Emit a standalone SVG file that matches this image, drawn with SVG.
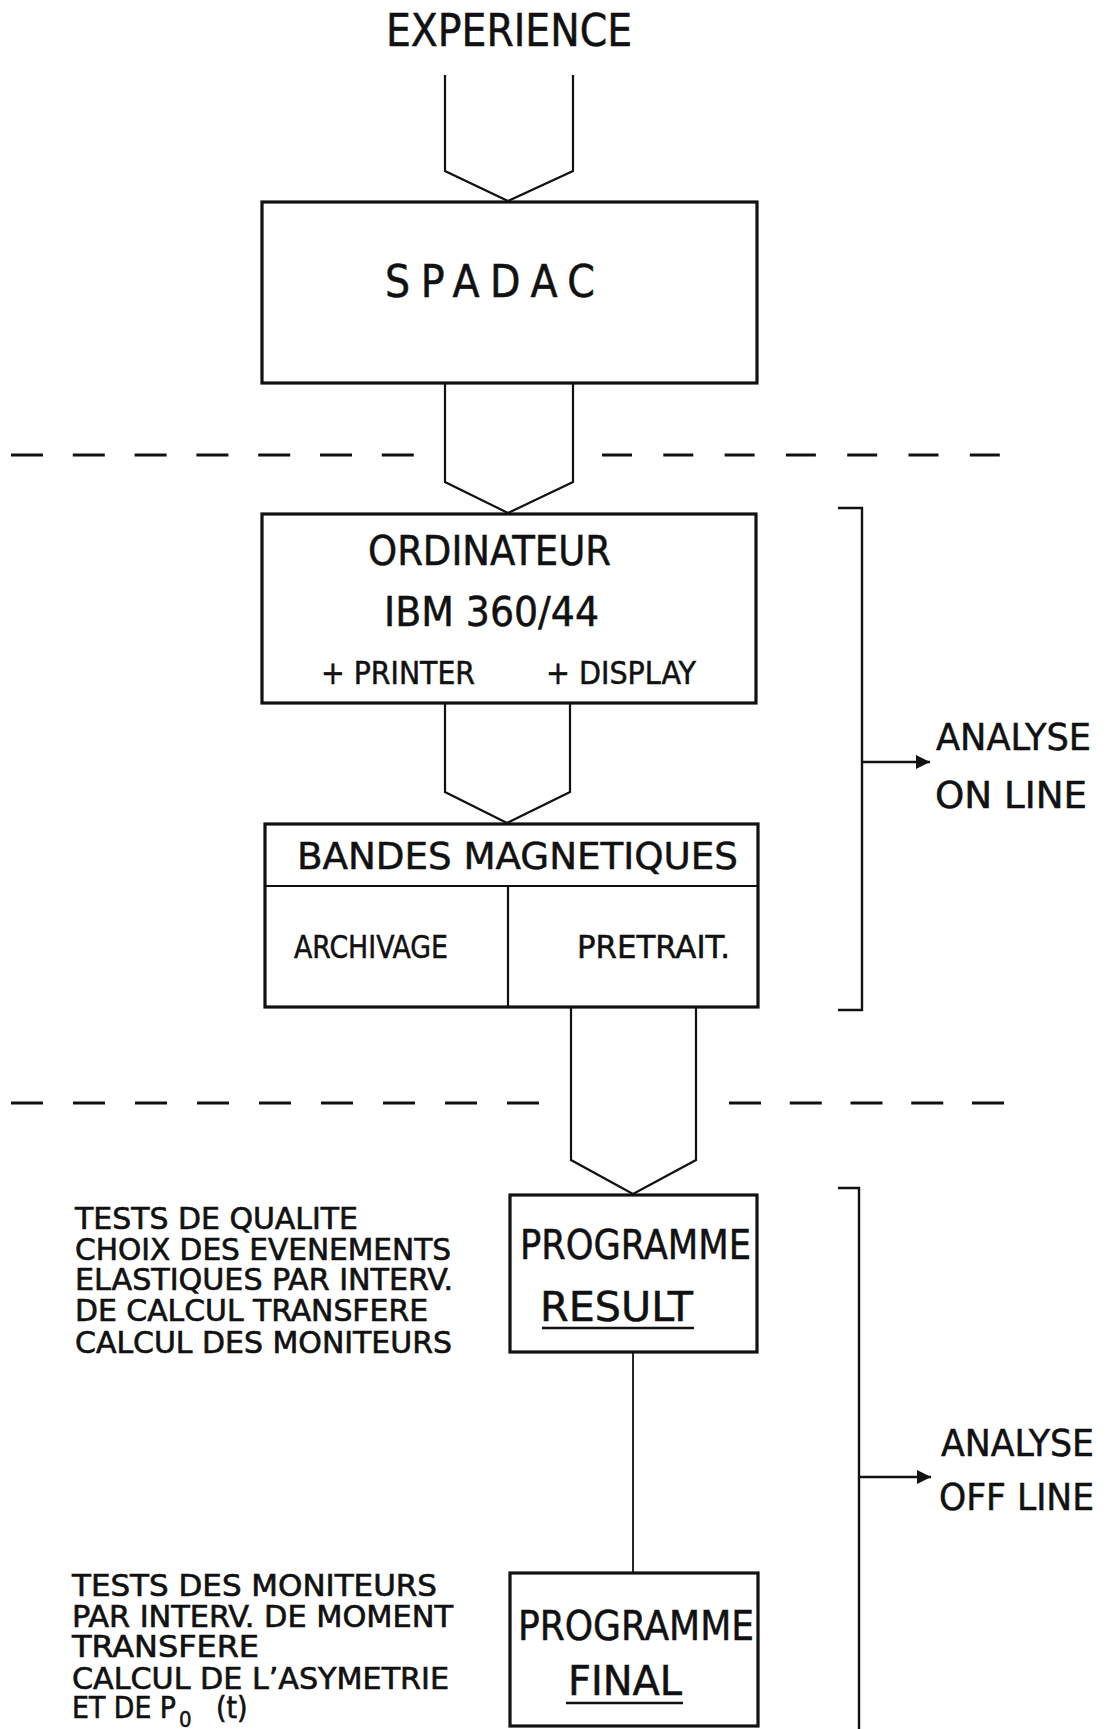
<svg xmlns="http://www.w3.org/2000/svg" width="1115" height="1729" viewBox="0 0 1115 1729">
<style>
text{font-family:"DejaVu Sans Condensed","DejaVu Sans","Liberation Sans",sans-serif;font-stretch:condensed;fill:#111;stroke:#111;stroke-width:0.5;}
.box{fill:none;stroke:#111;stroke-width:3.2;}
.div{fill:none;stroke:#111;stroke-width:2.2;}
.flow{fill:none;stroke:#111;stroke-width:2.2;stroke-linejoin:miter;}
.thin{fill:none;stroke:#111;stroke-width:1.8;}
.dash{fill:none;stroke:#111;stroke-width:3;}
.br{fill:none;stroke:#111;stroke-width:2.4;}
.big{font-size:44px;}
.mid{font-size:41px;}
.sm{font-size:32px;}
.note{font-size:30px;stroke-width:0.6;}
.lab{font-size:38px;}
.ul{stroke:#111;stroke-width:2.4;}
</style>
<defs>
<marker id="ah" viewBox="0 0 10 10" refX="10" refY="5" markerWidth="30" markerHeight="14" markerUnits="userSpaceOnUse" orient="auto">
<path d="M0,0 L10,5 L0,10 Z" fill="#111"/>
</marker>
</defs>
<rect width="1115" height="1729" fill="#fff"/>

<g id="separators">
<line class="dash" x1="11" y1="455" x2="414" y2="455" stroke-dasharray="32 29.8"/>
<line class="dash" x1="602" y1="455" x2="1000" y2="455" stroke-dasharray="30 31.3"/>
<line class="dash" x1="11" y1="1103" x2="539" y2="1103" stroke-dasharray="32 30"/>
<line class="dash" x1="729" y1="1103" x2="1004" y2="1103" stroke-dasharray="32 28.75"/>
</g>

<g id="experience">
<text class="big" x="386" y="46" textLength="246" lengthAdjust="spacingAndGlyphs">EXPERIENCE</text>
</g>

<g id="connectors">
<path class="flow" d="M445,75 L445,171 L508,201 L573,171 L573,75"/>
<path class="flow" d="M445,383 L445,482 L508,513 L573,482 L573,383"/>
<path class="flow" d="M445,703 L445,792 L507,823 L570,792 L570,703"/>
<path class="flow" d="M571,1006 L571,1160 L633,1194 L696,1160 L696,1006"/>
<line class="thin" x1="633" y1="1352" x2="633" y2="1573"/>
</g>

<g id="spadac">
<rect class="box" x="262" y="202" width="495" height="181"/>
<text class="big" x="385" y="297" textLength="210" lengthAdjust="spacing">SPADAC</text>
</g>

<g id="ordinateur">
<rect class="box" x="262" y="514" width="494" height="189"/>
<text class="mid" x="368" y="565" textLength="243" lengthAdjust="spacingAndGlyphs">ORDINATEUR</text>
<text class="mid" x="384" y="626" textLength="215" lengthAdjust="spacingAndGlyphs">IBM 360/44</text>
<text class="sm" x="321" y="684" textLength="154" lengthAdjust="spacingAndGlyphs">+ PRINTER</text>
<text class="sm" x="546" y="684" textLength="150" lengthAdjust="spacingAndGlyphs">+ DISPLAY</text>
</g>

<g id="bandes">
<rect class="box" x="265" y="824" width="493" height="183"/>
<line class="div" x1="265" y1="886" x2="758" y2="886"/>
<line class="div" x1="508" y1="886" x2="508" y2="1007"/>
<text class="lab" x="297" y="869" textLength="441" lengthAdjust="spacingAndGlyphs">BANDES MAGNETIQUES</text>
<text class="sm" x="294" y="958" textLength="154" lengthAdjust="spacingAndGlyphs">ARCHIVAGE</text>
<text class="sm" x="577" y="958" textLength="153" lengthAdjust="spacingAndGlyphs">PRETRAIT.</text>
</g>

<g id="result">
<rect class="box" x="510" y="1195" width="247" height="157"/>
<text class="mid" x="520" y="1259" textLength="231" lengthAdjust="spacingAndGlyphs">PROGRAMME</text>
<text class="mid" x="540" y="1321" textLength="153" lengthAdjust="spacingAndGlyphs">RESULT</text>
<line class="ul" x1="542" y1="1328" x2="694" y2="1328"/>
</g>

<g id="final">
<rect class="box" x="510" y="1573" width="248" height="153"/>
<text class="mid" x="518" y="1640" textLength="236" lengthAdjust="spacingAndGlyphs">PROGRAMME</text>
<text class="mid" x="568" y="1695" textLength="114" lengthAdjust="spacingAndGlyphs">FINAL</text>
<line class="ul" x1="566" y1="1703" x2="683" y2="1703"/>
</g>

<g id="notes-result">
<text class="note" x="75" y="1229" textLength="283" lengthAdjust="spacingAndGlyphs">TESTS DE QUALITE</text>
<text class="note" x="75" y="1260" textLength="376" lengthAdjust="spacingAndGlyphs">CHOIX DES EVENEMENTS</text>
<text class="note" x="75" y="1290" textLength="378" lengthAdjust="spacingAndGlyphs">ELASTIQUES PAR INTERV.</text>
<text class="note" x="75" y="1321" textLength="353" lengthAdjust="spacingAndGlyphs">DE CALCUL TRANSFERE</text>
<text class="note" x="75" y="1353" textLength="377" lengthAdjust="spacingAndGlyphs">CALCUL DES MONITEURS</text>
</g>

<g id="notes-final">
<text class="note" x="72" y="1596" textLength="365" lengthAdjust="spacingAndGlyphs">TESTS DES MONITEURS</text>
<text class="note" x="72" y="1627" textLength="381" lengthAdjust="spacingAndGlyphs">PAR INTERV. DE MOMENT</text>
<text class="note" x="72" y="1657" textLength="187" lengthAdjust="spacingAndGlyphs">TRANSFERE</text>
<text class="note" x="72" y="1689" textLength="377" lengthAdjust="spacingAndGlyphs">CALCUL DE L’ASYMETRIE</text>
<text class="note" x="72" y="1718" textLength="104" lengthAdjust="spacingAndGlyphs">ET DE P</text>
<text x="179" y="1727" font-size="22">0</text>
<text class="note" x="216" y="1718">(t)</text>
</g>

<g id="online">
<path class="br" d="M838,508 L862,508 L862,1010 L838,1010"/>
<line class="br" x1="862" y1="762" x2="930" y2="762" marker-end="url(#ah)"/>
<text class="lab" x="936" y="750" textLength="155" lengthAdjust="spacingAndGlyphs">ANALYSE</text>
<text class="lab" x="935" y="808" textLength="152" lengthAdjust="spacingAndGlyphs">ON LINE</text>
</g>

<g id="offline">
<path class="br" d="M838,1188 L859,1188 L859,1729"/>
<line class="br" x1="859" y1="1477" x2="931" y2="1477" marker-end="url(#ah)"/>
<text class="lab" x="941" y="1456" textLength="153" lengthAdjust="spacingAndGlyphs">ANALYSE</text>
<text class="lab" x="939" y="1510" textLength="155" lengthAdjust="spacingAndGlyphs">OFF LINE</text>
</g>
</svg>
